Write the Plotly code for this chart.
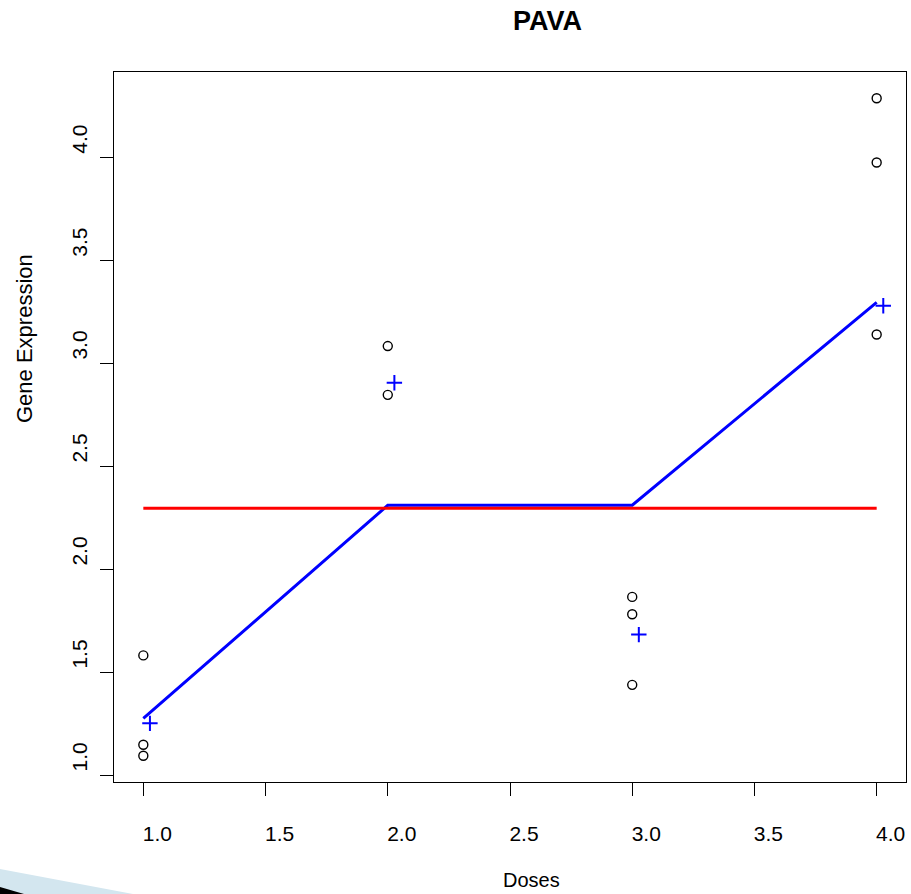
import plotly.graph_objects as go

# ---- data ----
dose_obs = [1, 1, 1, 2, 2, 3, 3, 3, 4, 4, 4]
expr_obs = [1.581, 1.147, 1.094, 3.083, 2.846, 1.865, 1.781, 1.438, 4.286, 3.974, 3.139]
dose_levels = [1, 2, 3, 4]
pava_fit = [1.275, 2.310, 2.310, 3.295]
plus_dose = [1.027, 2.027, 3.027, 4.027]
plus_expr = [1.251, 2.905, 1.682, 3.279]
flat_dose = [1, 4]
flat_level = [2.296, 2.296]
x_ticks = [1.0, 1.5, 2.0, 2.5, 3.0, 3.5, 4.0]
y_ticks = [1.0, 1.5, 2.0, 2.5, 3.0, 3.5, 4.0]

# ---- layout geometry ----
W, H = 911, 894
L, R, T, B = 114, 906, 72, 782
FONT = "Liberation Sans, Arial, Helvetica, sans-serif"


def px(xp):
    return (xp - L) / (R - L)


def py(yp):
    return (B - yp) / (B - T)


xmin, xmax = min(dose_obs), max(dose_obs)
xpad = 0.04 * (xmax - xmin)
ymin, ymax = min(expr_obs), max(expr_obs)
ypad = 0.04 * (ymax - ymin)

fig = go.Figure()
fig.add_trace(go.Scatter(
    x=dose_obs, y=expr_obs, mode="markers",
    marker=dict(symbol="circle-open", size=9, color="black", line=dict(width=1.4, color="black")),
    showlegend=False, hoverinfo="skip"))
fig.add_trace(go.Scatter(
    x=dose_levels, y=pava_fit, mode="lines",
    line=dict(color="#0000FF", width=3), showlegend=False, hoverinfo="skip"))
fig.add_trace(go.Scatter(
    x=flat_dose, y=flat_level, mode="lines",
    line=dict(color="#FF0000", width=3), showlegend=False, hoverinfo="skip"))
fig.add_trace(go.Scatter(
    x=plus_dose, y=plus_expr, mode="markers",
    marker=dict(symbol="cross-thin", size=11, color="#0000FF", line=dict(width=2, color="#0000FF")),
    showlegend=False, hoverinfo="skip"))

axis_common = dict(
    showgrid=False, zeroline=False, showline=True, linecolor="black", linewidth=1,
    mirror=True, ticks="outside", ticklen=13, tickwidth=1, tickcolor="black",
    tickfont=dict(family=FONT, size=21, color="black"), tickformat=".1f",
)

fig.update_xaxes(range=[xmin - xpad, xmax + xpad], tickvals=x_ticks,
                 ticklabelstandoff=20, ticklabelshift=14, **axis_common)
fig.update_yaxes(range=[ymin - ypad, ymax + ypad], tickvals=y_ticks, tickangle=-90,
                 ticklabelstandoff=5, ticklabelshift=-15, **axis_common)

fig.update_layout(
    width=W, height=H,
    margin=dict(l=L, r=W - R, t=T, b=H - B, pad=0),
    paper_bgcolor="white", plot_bgcolor="white",
    font=dict(family=FONT, color="black"),
    annotations=[
        dict(text="<b>PAVA</b>", x=px(547), y=py(21), xref="paper", yref="paper",
             showarrow=False, xanchor="center", yanchor="middle",
             font=dict(size=27, family=FONT, color="black")),
        dict(text="Doses", x=px(531), y=py(880), xref="paper", yref="paper",
             showarrow=False, xanchor="center", yanchor="middle",
             font=dict(size=20, family=FONT, color="black")),
        dict(text="Gene Expression", x=px(24), y=py(339), xref="paper", yref="paper",
             showarrow=False, xanchor="center", yanchor="middle", textangle=-90,
             font=dict(size=22, family=FONT, color="black")),
    ],
    shapes=[
        dict(type="path", xref="paper", yref="paper",
             path=f"M {px(0)},{py(869)} L {px(133)},{py(894)} L {px(0)},{py(894)} Z",
             fillcolor="#D3E6EF", line=dict(width=0), layer="above"),
        dict(type="path", xref="paper", yref="paper",
             path=f"M {px(0)},{py(887)} L {px(24)},{py(894)} L {px(0)},{py(894)} Z",
             fillcolor="black", line=dict(width=0), layer="above"),
    ],
)

fig.write_html("out.html")
